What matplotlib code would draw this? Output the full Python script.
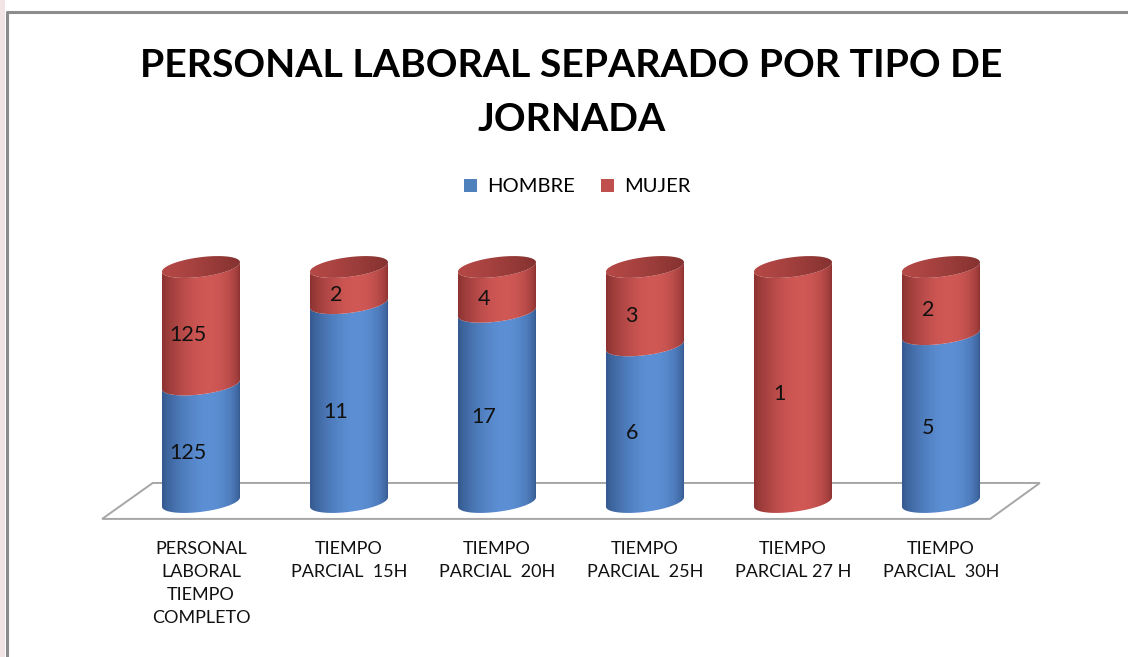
import numpy as np
import matplotlib
matplotlib.use("Agg")
import matplotlib.pyplot as plt
from matplotlib.patches import Polygon, Patch, Rectangle
from matplotlib.lines import Line2D

# ---- data ----
categories = [
    "PERSONAL\nLABORAL\nTIEMPO\nCOMPLETO",
    "TIEMPO\nPARCIAL  15H",
    "TIEMPO\nPARCIAL  20H",
    "TIEMPO\nPARCIAL  25H",
    "TIEMPO\nPARCIAL 27 H",
    "TIEMPO\nPARCIAL  30H",
]
hombre = [125, 11, 17, 6, 0, 5]
mujer = [125, 2, 4, 3, 1, 2]
series_names = ["HOMBRE", "MUJER"]
title_lines = ["PERSONAL LABORAL SEPARADO POR TIPO DE", "JORNADA"]

# ---- styling ----
W, H = 1128, 657
BLUE_LIGHT = np.array([92, 143, 212]) / 255
BLUE_DARK = np.array([52, 88, 142]) / 255
RED_LIGHT = np.array([208, 88, 85]) / 255
RED_DARK = np.array([138, 50, 48]) / 255
CAP_LIGHT = np.array([180, 72, 70]) / 255
CAP_DARK = np.array([132, 50, 48]) / 255
LEGEND_BLUE = "#4F81BD"
LEGEND_RED = "#C0504D"
FONT = "Lato"

fig = plt.figure(figsize=(W / 100, H / 100), dpi=100)
fig.patch.set_facecolor("white")

# outer frame of the chart area
fig.add_artist(Rectangle((0, 0), 5 / W, 1, transform=fig.transFigure,
                         facecolor="#f2e4e4", edgecolor="none"))
fig.add_artist(Line2D([7 / W, 7 / W, 1], [0, 1 - 12 / H, 1 - 12 / H],
                      transform=fig.transFigure, color="#8c8c8c", lw=2.2))

# plotting axes: x in category units, y as share of the column total
ax = fig.add_axes([127 / W, (H - 502) / H, 888 / W, 235 / H])
ax.set_xlim(-0.5, 5.5)
ax.set_ylim(0, 1)
for s in ax.spines.values():
    s.set_visible(False)
ax.set_yticks([])
ax.set_xticks(range(len(categories)))
ax.set_xticklabels(categories, fontsize=13, family=FONT, color="#111111",
                   linespacing=1.55, va="top")
ax.tick_params(axis="x", length=0, pad=28)
ax.patch.set_alpha(0)

# floor of the 3D plot
floor = Polygon([(-0.028, -0.072), (0.029, 0.081), (1.028, 0.081), (0.972, -0.072)],
                closed=True, transform=ax.transAxes, facecolor="white",
                edgecolor="#a6a6a6", lw=1.4, clip_on=False, zorder=0)
ax.add_patch(floor)

# cylinder geometry (data units)
a = 0.2635        # horizontal radius
b = 0.042         # vertical radius of the elliptical sections
k = 0.02          # tilt of the elliptical sections


def ellipse_pts(cx, cy, th):
    return np.column_stack([cx + a * np.cos(th), cy + b * np.sin(th) + k * np.cos(th)])


def shade(light, dark, n=200, peak=0.6):
    t = np.linspace(0, 1, n)
    c = np.log(0.5) / np.log(peak)
    p = np.sin(np.pi * t ** c) ** 0.6
    return (dark[None, :] + (light - dark)[None, :] * p[:, None])[None, :, :]


def shaded_patch(verts, img, extent, z):
    poly = Polygon(verts, closed=True, facecolor="none", edgecolor="none",
                   clip_on=False, zorder=z)
    ax.add_patch(poly)
    im = ax.imshow(img, extent=extent, aspect="auto", interpolation="bilinear",
                   zorder=z)
    im.set_clip_path(poly)
    im.set_clip_box(fig.bbox)


lower = np.linspace(np.pi, 2 * np.pi, 80)
full = np.linspace(0, 2 * np.pi, 160)

blue_img = shade(BLUE_LIGHT, BLUE_DARK)
red_img = shade(RED_LIGHT, RED_DARK)
t = np.linspace(0, 1, 200)
cap_img = (CAP_LIGHT[None, :] + (CAP_DARK - CAP_LIGHT)[None, :] * (t ** 1.3)[:, None])[None, :, :]

for i, (h, m) in enumerate(zip(hombre, mujer)):
    total = h + m
    segments = [(0, h / total, blue_img, h), (h / total, 1.0, red_img, m)]
    for y0, y1, img, val in segments:
        if val == 0:
            continue
        front0 = ellipse_pts(i, y0, lower)
        front1 = ellipse_pts(i, y1, lower)[::-1]
        verts = np.vstack([front0, front1])
        shaded_patch(verts, img, [i - a, i + a, y0 - b - k, y1 + b + k], 2)
        ax.annotate(str(val), xy=(i, (y0 + y1) / 2), xytext=(-9.5, -7),
                    textcoords="offset points", ha="center", va="center",
                    fontsize=15.5, family=FONT, color="#111111", zorder=5)
    # top cap
    cap = ellipse_pts(i, 1.0, full)
    shaded_patch(cap, cap_img, [i - a, i + a, 1 - b - k, 1 + b + k], 3)

ax.set_xlim(-0.5, 5.5)
ax.set_ylim(0, 1)

# title
fig.text(571.5 / W, 1 - 77 / H, title_lines[0], ha="center", va="baseline",
         fontsize=28.3, fontweight="bold", family=FONT, color="black")
fig.text(571.5 / W, 1 - 131 / H, title_lines[1], ha="center", va="baseline",
         fontsize=28.3, fontweight="bold", family=FONT, color="black")

# legend
handles = [Patch(facecolor=LEGEND_BLUE, edgecolor="none"),
           Patch(facecolor=LEGEND_RED, edgecolor="none")]
fig.legend(handles, series_names, loc="center", bbox_to_anchor=(577 / W, 1 - 187 / H),
           ncol=2, frameon=False, prop={"family": FONT, "size": 14.5},
           handlelength=0.65, handleheight=0.65, handletextpad=0.5, columnspacing=1.3)

fig.savefig("out.png", dpi=100, facecolor="white")
